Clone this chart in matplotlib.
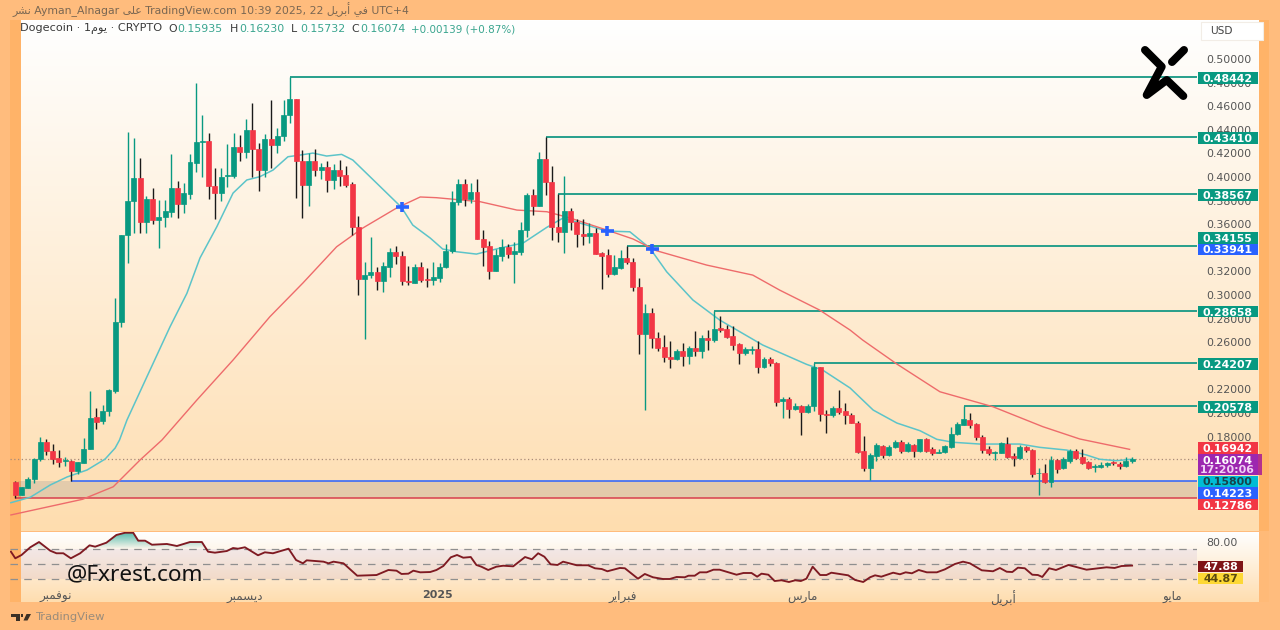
import numpy as np
import matplotlib
matplotlib.use('Agg')
import matplotlib.pyplot as plt
from matplotlib.patches import Rectangle, Polygon
from matplotlib.path import Path

plt.rcParams['font.family'] = ['DejaVu Sans']

# arabic words in display order (presentation forms, no shaping in matplotlib)
W_NOV = "\ufeae\ufe92\ufee4\ufed3\ufeee\ufee7"
W_DEC = "\ufeae\ufe92\ufee4\ufeb4\ufef3\ufea9"
W_FEB = "\ufead\ufef3\ufe8d\ufeae\ufe92\ufed3"
W_MAR = "\ufeb1\ufead\ufe8e\ufee3"
W_APR = "\ufede\ufef3\ufeae\ufe91\ufe83"
W_MAY = "\ufeee\ufef3\ufe8e\ufee3"
W_DAY = "\ufee1\ufeee\ufef3"
W_PUB = "\ufeae\ufeb8\ufee7"
W_ON = "\ufef0\ufee0\ufecb"
W_IN = "\ufef2\ufed3"

opens = [.1415, .1305, .1364, .1441, .1610, .1754, .1680, .1619, .1593, .1593,
         .1508, .1579, .1692, .1964, .1930, .2017, .2184, .2771, .3508, .3794,
         .3992, .3619, .3811, .3636, .3664, .3706, .3904, .3771, .3856, .4121,
         .4297, .4303, .3924, .3867, .4006, .4008, .4254, .4212, .4398, .4240,
         .4059, .4322, .4269, .4347, .4528, .4664, .4133, .3932, .4136, .4057,
         .4085, .3975, .4059, .4014, .3941, .3574, .3136, .3172, .3195, .3116,
         .3240, .3367, .3333, .3121, .3104, .3237, .3136, .3130, .3144, .3240,
         .3373, .3791, .3938, .3811, .3873, .3475, .3415, .3203, .3331, .3407,
         .3350, .3367, .3551, .3850, .3754, .4150, .3960, .3574, .3531, .3712,
         .3621, .3517, .3503, .3528, .3356, .3339, .3178, .3229, .3311, .3282,
         .3070, .2670, .2845, .2633, .2557, .2475, .2460, .2528, .2483, .2551,
         .2525, .2638, .2619, .2718, .2714, .2653, .2585, .2506, .2534, .2545,
         .2392, .2458, .2426, .2104, .2116, .2031, .2059, .2006, .2059, .2392,
         .1992, .1980, .2042, .2014, .1980, .1918, .1675, .1536, .1636, .1723,
         .1644, .1714, .1757, .1675, .1731, .1675, .1777, .1692, .1664, .1667,
         .1714, .1822, .1901, .1943, .1904, .1794, .1692, .1664, .1664, .1740,
         .1636, .1619, .1712, .1686, .1489, .1494, .1415, .1599, .1531, .1596,
         .1680, .1625, .1582, .1540, .1545, .1557, .1582, .1568, .1551, .1594]
closes = [.1305, .1373, .1443, .1613, .1757, .1680, .1610, .1585, .1602, .1508,
          .1585, .1698, .1960, .1926, .2020, .2192, .2774, .3511, .3797, .3992,
          .3619, .3811, .3636, .3661, .3712, .3907, .3771, .3862, .4125, .4299,
          .4303, .3924, .3867, .4003, .4014, .4254, .4212, .4398, .4240, .4059,
          .4322, .4269, .4347, .4528, .4664, .4133, .3932, .4133, .4059, .4085,
          .3975, .4059, .4008, .3932, .3574, .3138, .3172, .3195, .3116, .3246,
          .3367, .3333, .3116, .3113, .3237, .3127, .3130, .3150, .3240, .3375,
          .3791, .3938, .3811, .3873, .3475, .3409, .3203, .3339, .3407, .3347,
          .3375, .3551, .3850, .3754, .4150, .3960, .3574, .3531, .3712, .3621,
          .3514, .3503, .3528, .3347, .3333, .3178, .3237, .3311, .3277, .3070,
          .2670, .2845, .2633, .2551, .2472, .2460, .2528, .2483, .2551, .2525,
          .2638, .2619, .2714, .2703, .2644, .2576, .2506, .2545, .2540, .2392,
          .2460, .2421, .2096, .2116, .2031, .2059, .2011, .2059, .2387, .1989,
          .1983, .2045, .2008, .1980, .1915, .1669, .1536, .1642, .1726, .1644,
          .1714, .1757, .1675, .1735, .1675, .1777, .1680, .1664, .1669, .1720,
          .1825, .1904, .1947, .1898, .1794, .1686, .1658, .1669, .1743, .1630,
          .1619, .1714, .1684, .1483, .1494, .1415, .1602, .1528, .1608, .1680,
          .1616, .1576, .1534, .1551, .1562, .1574, .1574, .1551, .1591, .1607]
highs = [.1424, .1373, .1460, .1621, .1797, .1780, .1737, .1686, .1630, .1602,
         .1587, .1788, .2186, .2045, .2068, .2203, .2975, .3511, .4381, .4331,
         .4161, .3841, .3909, .3805, .3805, .4195, .3966, .3949, .4195, .4794,
         .4525, .4373, .4079, .4079, .4280, .4373, .4356, .4494, .4630, .4286,
         .4362, .4653, .4418, .4653, .4844, .4664, .4226, .4206, .4237, .4116,
         .4136, .4110, .4144, .4096, .3958, .3669, .3282, .3494, .3240, .3280,
         .3396, .3415, .3370, .3246, .3263, .3282, .3226, .3280, .3269, .3432,
         .3884, .3980, .3980, .3947, .3980, .3551, .3460, .3387, .3472, .3430,
         .3452, .3619, .3867, .3896, .4209, .4341, .4093, .3857, .4008, .3735,
         .3644, .3642, .3608, .3570, .3367, .3387, .3339, .3381, .3415, .3311,
         .3142, .2924, .2890, .2684, .2658, .2608, .2545, .2596, .2568, .2697,
         .2664, .2703, .2866, .2825, .2743, .2737, .2596, .2557, .2568, .2608,
         .2472, .2472, .2435, .2138, .2133, .2085, .2070, .2076, .2421, .2392,
         .2025, .2059, .2195, .2082, .1997, .1935, .1805, .1658, .1743, .1731,
         .1726, .1774, .1771, .1757, .1737, .1782, .1791, .1709, .1692, .1726,
         .1884, .1926, .2058, .2003, .1913, .1816, .1720, .1680, .1754, .1799,
         .1658, .1726, .1720, .1697, .1531, .1568, .1636, .1613, .1625, .1697,
         .1692, .1697, .1596, .1568, .1585, .1587, .1596, .1585, .1630, .1623]
lows = [.1280, .1305, .1362, .1409, .1596, .1644, .1568, .1545, .1551, .1422,
        .1483, .1576, .1692, .1862, .1907, .1977, .2169, .2731, .3274, .3525,
        .3525, .3525, .3602, .3401, .3579, .3664, .3653, .3695, .3814, .4045,
        .4003, .3811, .3647, .3799, .3915, .3992, .4138, .4164, .4003, .3881,
        .4003, .4079, .4206, .4308, .4460, .3822, .3653, .3754, .4008, .3986,
        .3870, .3898, .3924, .3913, .3506, .3000, .2625, .3142, .3045, .3028,
        .3155, .3263, .3082, .3082, .3099, .3110, .3065, .3087, .3110, .3226,
        .3353, .3763, .3754, .3777, .3472, .3246, .3138, .3203, .3291, .3314,
        .3099, .3339, .3489, .3678, .3754, .3847, .3466, .3449, .3353, .3551,
        .3409, .3424, .3443, .3347, .3051, .3150, .3169, .3220, .3263, .3034,
        .2500, .2025, .2551, .2523, .2432, .2381, .2449, .2398, .2415, .2483,
        .2466, .2534, .2604, .2689, .2633, .2534, .2415, .2492, .2500, .2342,
        .2379, .2401, .2059, .1955, .1958, .2025, .1811, .2000, .2020, .1935,
        .1831, .1969, .1992, .1907, .1913, .1658, .1508, .1432, .1596, .1621,
        .1636, .1706, .1658, .1669, .1630, .1667, .1669, .1647, .1658, .1664,
        .1703, .1811, .1896, .1875, .1771, .1664, .1641, .1602, .1658, .1619,
        .1551, .1608, .1669, .1460, .1302, .1409, .1370, .1489, .1523, .1579,
        .1608, .1568, .1528, .1502, .1534, .1542, .1562, .1523, .1545, .1573]

# moving averages, read at bends of the lines
ma_fast_i = [-0.7, 2.4, 5.6, 8.3, 11.5, 14.4, 16, 16.7, 17.9, 21.1, 24.8, 27.5, 29.6, 32.3, 34.9,
             37.1, 39.2, 41.3, 43.7, 45.6, 47.7, 49.9, 52.3, 54.1, 57.9, 61.9, 63.7, 66.5, 68.5,
             70.7, 73.9, 77.7, 81.4, 85.2, 87.8, 94.8, 98.5, 101.7, 104.4, 108.6, 112.9, 119.8,
             126.8, 129.4, 133.8, 137.5, 141.3, 145, 147.7, 150.3, 154.6, 161, 164.2, 168.5,
             171.7, 173.8, 176.5, 178.9]
ma_fast = [.1240, .1286, .1390, .1458, .1517, .1610, .1703, .1771, .1941, .2308, .2731, .3014, .3314,
           .3579, .3864, .3975, .4003, .4059, .4172, .4186, .4203, .4178, .4192, .4144, .3949, .3743,
           .3593, .3483, .3390, .3367, .3347, .3398, .3441, .3574, .3653, .3542, .3536, .3398, .3197,
           .2958, .2788, .2576, .2413, .2364, .2212, .2025, .1915, .1850, .1777, .1752, .1737, .1737,
           .1709, .1686, .1644, .1608, .1596, .1608]
ma_slow_i = [-0.7, 10.8, 15.7, 20, 23.5, 29.1, 34.9, 40.8, 46.1, 51.5, 55.7, 61.1, 64.9, 67.5, 74.5,
             80.4, 85.2, 88.9, 94.8, 99, 102.8, 110.8, 118.2, 122.5, 128.9, 133.8, 135.8, 141.3,
             148.2, 156.7, 164.7, 170.6, 178.6]
ma_slow = [.1136, .1269, .1375, .1602, .1771, .2110, .2449, .2816, .3102, .3409, .3568, .3737, .3831,
           .3825, .3791, .3720, .3706, .3653, .3551, .3475, .3375, .3254, .3169, .3042, .2873, .2703,
           .2619, .2415, .2180, .2053, .1884, .1780, .1692]

cross_i = [62, 94.8, 102]
cross_vals = [.3745, .3542, .3394]

# levels: price, first bar
level_vals = [.48442, .43410, .38567, .34155, .28658, .24207, .20578]
level_start = [44, 85, 87, 98, 112, 128, 152]
zone_top = .14223
zone_top_start = 9
zone_bot = .12786
last_price = .16074

# .34 and .24 sit fully behind their tags in the reference
price_ticks = [.50, .48, .46, .44, .42, .40, .38, .36, .32, .30, .28, .26, .22, .20, .18]

# right scale boxes: text, price at box centre, colour, text colour
tag_text = ['0.48442', '0.43410', '0.38567', '0.34155', '0.33941', '0.28658', '0.24207', '0.20578',
            '0.16942', '0.15800', '0.14223', '0.12786']
tag_pos = [.4839, .4332, .3847, .3483, .3386, .2860, .2415, .2051, .1701, .1420, .1322, .1223]
tag_col = ['#089981'] * 4 + ['#2962FF'] + ['#089981'] * 3 + ['#F23645', '#00BCD4', '#2962FF', '#F23645']
tag_txt = ['white'] * 9 + ['#17434a', 'white', 'white']

rsi_i = [-0.7, 0, 1, 2.4, 3.8, 5.6, 6.6, 7.7, 8.9, 10.4, 11.9, 12.8, 14.6, 16.2, 17.6, 18.9, 19.7, 20.8,
         21.9, 24.3, 25.9, 28, 29.9, 30.9, 32, 33.9, 34.9, 35.7, 36.8, 38.9, 40, 41.3, 43.8, 45, 46.1,
         46.7, 49.4, 50.2, 51, 52.6, 54.8, 57.9, 59.8, 61.1, 61.9, 63, 63.8, 64.9, 66.5, 67.5, 68.6,
         69.8, 70.8, 71.8, 73, 73.9, 74.7, 75.8, 77.1, 78.2, 79.8, 81.7, 82.8, 83.8, 84.8, 85.8, 86.9,
         87.8, 90, 91.8, 92.9, 94, 94.9, 96.9, 97.7, 99.8, 100.9, 102.2, 103.8, 104.9, 106, 107.3,
         107.9, 108.9, 109.7, 110.8, 111.9, 112.9, 115.6, 116.7, 118, 118.9, 119.6, 120.7, 121.7,
         122.8, 124, 125, 125.9, 126.8, 127.8, 129, 130, 130.8, 133.5, 134.6, 135.9, 137, 137.8, 138.8,
         140.7, 141.8, 142.7, 143.7, 144.8, 146.1, 147.7, 149, 150.6, 151.9, 153, 154.9, 156.7, 157.8,
         158.9, 159.8, 160.7, 161.8, 163, 163.9, 164.6, 165.7, 166.8, 168.8, 171.7, 174.9, 176.2, 177.3,
         179]
rsi_v = [66.4, 57.6, 62, 72.3, 79.3, 67.7, 64.3, 64.3, 57.6, 64.3, 74.9, 73.1, 78.4, 88.7, 91.7, 91.7, 81.1,
         81.1, 75.7, 76.7, 74, 79.3, 79.3, 66.4, 65.1, 67.3, 71.3, 70.4, 72.3, 61.6, 65.6, 64.3, 70.4, 55.3,
         50.9, 54.9, 53.1, 50.9, 53.1, 50.9, 34.4, 35.3, 42, 41.1, 36.7, 37.1, 41.1, 38.9, 39.3, 42, 47.3,
         58.9, 62, 58.4, 59.3, 48.7, 46.4, 42, 46.4, 47.7, 46.9, 59.3, 56.3, 64.3, 59.7, 49.6, 48.7, 53.1,
         48.3, 48.3, 44.3, 43.3, 40.3, 44.7, 44.3, 30.4, 36.7, 32.3, 30, 30, 32.7, 32.3, 34.4, 34.4, 38.9,
         38.9, 42.4, 42.4, 35.7, 38, 38, 33.1, 37.1, 35.7, 27.3, 28.3, 26, 28.3, 27.3, 30.4, 46.4, 35.3,
         35.3, 38.4, 34.9, 28.7, 26, 32.3, 34.9, 33.1, 38.4, 36.3, 38.9, 37.6, 42, 38.9, 38.9, 42.9, 50,
         53.1, 50.9, 41.6, 40.3, 44.7, 39.7, 39.3, 45.1, 44.3, 35.7, 35.3, 32.7, 44.3, 42, 48.7, 42.4, 45.6,
         44.7, 47.3, 47.9]
rsi_levels = [70, 50, 30]

month_pos = [6.5, 36.8, 67.7, 97.4, 126.2, 158.3, 185.5]
month_names = [W_NOV, W_DEC, '2025', W_FEB, W_MAR, W_APR, W_MAY]

GREEN = '#089981'
RED = '#F23645'
OUTER = '#FFBC7D'
BAND = '#FFB368'
END = (254 / 255, 221 / 255, 175 / 255)
PX = 72 / 100  # points per pixel at dpi 100

fig = plt.figure(figsize=(12.8, 6.3), dpi=100, facecolor=OUTER)


def grad(ax, x0, x1, y0, y1):
    g = np.ones((256, 1, 3))
    t = np.linspace(0, 1, 256)
    for c in range(3):
        g[:, 0, c] = 1 + (END[c] - 1) * t
    ax.imshow(g, extent=(x0, x1, y1, y0), aspect='auto', interpolation='bilinear', zorder=1)


# background, in pixel coordinates
bg = fig.add_axes([0, 0, 1, 1], zorder=0)
bg.add_patch(Rectangle((10, 20), 11, 582, color=BAND, lw=0, zorder=0))
bg.add_patch(Rectangle((1259, 20), 10, 511, color=BAND, lw=0, zorder=0))
bg.add_patch(Rectangle((1259, 531), 10, 71, color='#FFBA78', lw=0, zorder=0))
grad(bg, 21, 1259, 20, 531)
grad(bg, 21, 1259, 532, 602)
bg.set_xlim(0, 1280)
bg.set_ylim(630, 0)
bg.axis('off')

# price pane
ax = fig.add_axes([10 / 1280, 99 / 630, 1187 / 1280, 511 / 630], zorder=2)
ax.patch.set_alpha(0)
xlim = (-0.85, 189.4)
ax.set_xlim(xlim)
ax.set_ylim(0.1, 0.5331)
for s in ax.spines.values():
    s.set_visible(False)
ax.set_xticks([])
ax.yaxis.tick_right()
ax.set_yticks(price_ticks)
ax.set_yticklabels(['%.5f' % p for p in price_ticks], fontsize=11 * PX, color='#555555')
ax.tick_params(axis='y', length=0, pad=9 * PX)

ax.fill_between([0.5, xlim[1]], zone_bot, zone_top, color='#787B86', alpha=0.2, lw=0, zorder=1)
ax.hlines(zone_top, zone_top_start, xlim[1], color='#2962FF', lw=1.1, zorder=2)
ax.hlines(zone_bot, 0, xlim[1], color='#D8404E', lw=1.1, zorder=2)
ax.hlines(last_price, xlim[0], xlim[1], color='#A88A78', lw=0.9, linestyles=(0, (1, 2)), zorder=2)
for val, start in zip(level_vals, level_start):
    ax.hlines(val, start, xlim[1], color='#1F9C88', lw=1.35, zorder=2)

ax.plot(ma_fast_i, ma_fast, color='#5CC4C9', lw=1.1, zorder=3)
ax.plot(ma_slow_i, ma_slow, color='#EE6B6B', lw=1.0, zorder=3)

idx = np.arange(len(opens))
o = np.array(opens)
c = np.array(closes)
up = c >= o
ax.vlines(idx[up], np.array(lows)[up], np.array(highs)[up], color=GREEN, lw=1.0, zorder=4)
ax.vlines(idx[~up], np.array(lows)[~up], np.array(highs)[~up], color='#1a1a1a', lw=1.0, zorder=4)
ax.bar(idx[up], (c - o)[up], bottom=o[up], width=0.8, color=GREEN, edgecolor=GREEN, lw=0.5, zorder=5)
ax.bar(idx[~up], (c - o)[~up], bottom=o[~up], width=0.8, color=RED, edgecolor=RED, lw=0.5, zorder=5)

ax.plot(cross_i, cross_vals, ls='none', marker='_', ms=13 * PX, mew=3.6 * PX, color='#2962FF', zorder=6)
ax.plot(cross_i, cross_vals, ls='none', marker='|', ms=10 * PX, mew=3.6 * PX, color='#2962FF', zorder=6)

# scale tags
tr = ax.get_yaxis_transform()
w = 60 / 1187
h = 11.6 / 1180
for txt, pos, col, tc in zip(tag_text, tag_pos, tag_col, tag_txt):
    ax.add_patch(Rectangle((1 + 0.5 / 1187, pos - h / 2), w, h, transform=tr, color=col, lw=0, clip_on=False, zorder=7))
    ax.text(1 + 30.5 / 1187, pos, txt, transform=tr, color=tc, fontsize=11 * PX, weight='bold',
            ha='center', va='center_baseline', clip_on=False, zorder=8)
pos = .1564
ax.add_patch(Rectangle((1 + 60 / 1187, pos - 21 / 2360), 5 / 1187, 21 / 1180, transform=tr, color='#B5308E', lw=0,
                       clip_on=False, zorder=7))
ax.add_patch(Rectangle((1 + 0.5 / 1187, pos - 21 / 2360), w, 21 / 1180, transform=tr, color='#9C27B0', lw=0,
                       clip_on=False, zorder=7))
ax.text(1 + 30.5 / 1187, pos + 4.7 / 1180, '0.16074', transform=tr, color='white', fontsize=11 * PX, weight='bold',
        ha='center', va='center_baseline', clip_on=False, zorder=8)
ax.text(1 + 30.5 / 1187, pos - 4.9 / 1180, '17:20:06', transform=tr, color='#F0D0F5', fontsize=11 * PX, weight='bold',
        ha='center', va='center_baseline', clip_on=False, zorder=8)

# rsi pane
rs = fig.add_axes([10 / 1280, 43 / 630, 1187 / 1280, 55 / 630], zorder=2)
rs.patch.set_alpha(0)
for s in rs.spines.values():
    s.set_visible(False)
rs.axhspan(30, 70, xmin=11 / 1187, color='#7E57C2', alpha=0.09, lw=0, zorder=1)
for lv in rsi_levels:
    rs.axhline(lv, color='#8f8f8f', lw=0.9, dashes=(6, 5), zorder=2)
rv = np.array(rsi_v)
ri = np.array(rsi_i)
poly = rs.fill_between(ri, rv, 70, where=rv >= 70, interpolate=True, color='none', lw=0)
grad_img = np.zeros((128, 1, 4))
grad_img[:, 0, :3] = (8 / 255, 153 / 255, 129 / 255)
grad_img[:, 0, 3] = np.linspace(0.7, 0.0, 128)
im = rs.imshow(grad_img, extent=(xlim[0], xlim[1], 70, 92), aspect='auto', zorder=2)
im.set_clip_path(Path.make_compound_path(*poly.get_paths()), rs.transData)
rs.plot(ri, rv, color='#7F1A22', lw=1.35, zorder=3)
rs.set_xlim(xlim)
rs.set_ylim(19.33, 92.67)
rs.yaxis.tick_right()
rs.set_yticks([80])
rs.set_yticklabels(['80.00'], fontsize=11 * PX, color='#555555')
rs.tick_params(axis='y', length=0, pad=9 * PX)
rs.set_xticks(month_pos)
rs.set_xticklabels(month_names, fontsize=12 * PX, color='#555555')
rs.get_xticklabels()[2].set_fontsize(11 * PX)
rs.get_xticklabels()[2].set_weight('bold')
rs.tick_params(axis='x', length=0, pad=2.5)
trr = rs.get_yaxis_transform()
for txt, v, col, tc in [('47.88', 46.7, '#7F1417', 'white'), ('44.87', 30.8, '#FDD835', '#5a4a10')]:
    rs.add_patch(Rectangle((1 + 0.5 / 1187, v - 7.75), 45.5 / 1187, 15.5, transform=trr, color=col, lw=0,
                           clip_on=False, zorder=7))
    rs.text(1 + 23.5 / 1187, v, txt, transform=trr, color=tc, fontsize=11 * PX, weight='bold', ha='center',
            va='center_baseline', clip_on=False, zorder=8)

# texts and logo on top, pixel coordinates
top = fig.add_axes([0, 0, 1, 1], zorder=5)
top.patch.set_alpha(0)
top.set_xlim(0, 1280)
top.set_ylim(630, 0)
top.axis('off')

title = W_PUB + ' Ayman_Alnagar ' + W_ON + ' TradingView.com 10:39 2025, 22 ' + W_APR + ' ' + W_IN + ' UTC+4'
top.text(12, 10, title, fontsize=10.9 * PX, color='#7A6752', va='center')

head = [(20, 'Dogecoin \u00b7 1' + W_DAY + ' \u00b7 CRYPTO', '#3A3A3A', 11.3), (168, 'O', '#3A3A3A', 11),
        (177, '0.15935', '#3AA58F', 11), (230, 'H', '#3A3A3A', 11), (239, '0.16230', '#3AA58F', 11),
        (291, 'L', '#3A3A3A', 11), (300, '0.15732', '#3AA58F', 11), (351, 'C', '#3A3A3A', 11),
        (360, '0.16074', '#3AA58F', 11), (411, '+0.00139 (+0.87%)', '#3AA58F', 10.4)]
for x, s, col, size in head:
    top.text(x, 29, s, fontsize=size * PX, color=col, va='center')

top.add_patch(Rectangle((1200.5, 21.5), 62.5, 18, fc='white', ec='#F2EDE6', lw=0.8))
top.text(1221, 30.5, 'USD', fontsize=10.5 * PX, color='#444444', ha='center', va='center')

# logo strokes
for xs, ys in [([1145, 1161.7, 1146.7, 1166.7, 1183.3], [50, 66.7, 95, 80, 96]), ([1172, 1184], [62, 50])]:
    top.plot(xs, ys, color='black', lw=8 * PX, solid_capstyle='round', solid_joinstyle='round')

top.text(67, 574.5, '@Fxrest.com', fontsize=22.6 * PX, family='Noto Sans', color='#111111', va='center')

top.add_patch(Polygon([(11, 614), (20, 614), (20, 620.5), (15.5, 620.5), (15.5, 617), (11, 617)], color='#3b3025', lw=0))
top.add_patch(Polygon([(23.5, 620.5), (26.5, 614), (31, 614), (27.5, 620.5)], color='#3b3025', lw=0))
top.add_patch(Rectangle((20.8, 614), 2.6, 2.6, color='#3b3025', lw=0))
top.text(36, 617.5, 'TradingView', fontsize=11.5 * PX, color='#9A8C7B', va='center')

fig.savefig('out.png', dpi=100, facecolor=OUTER)
